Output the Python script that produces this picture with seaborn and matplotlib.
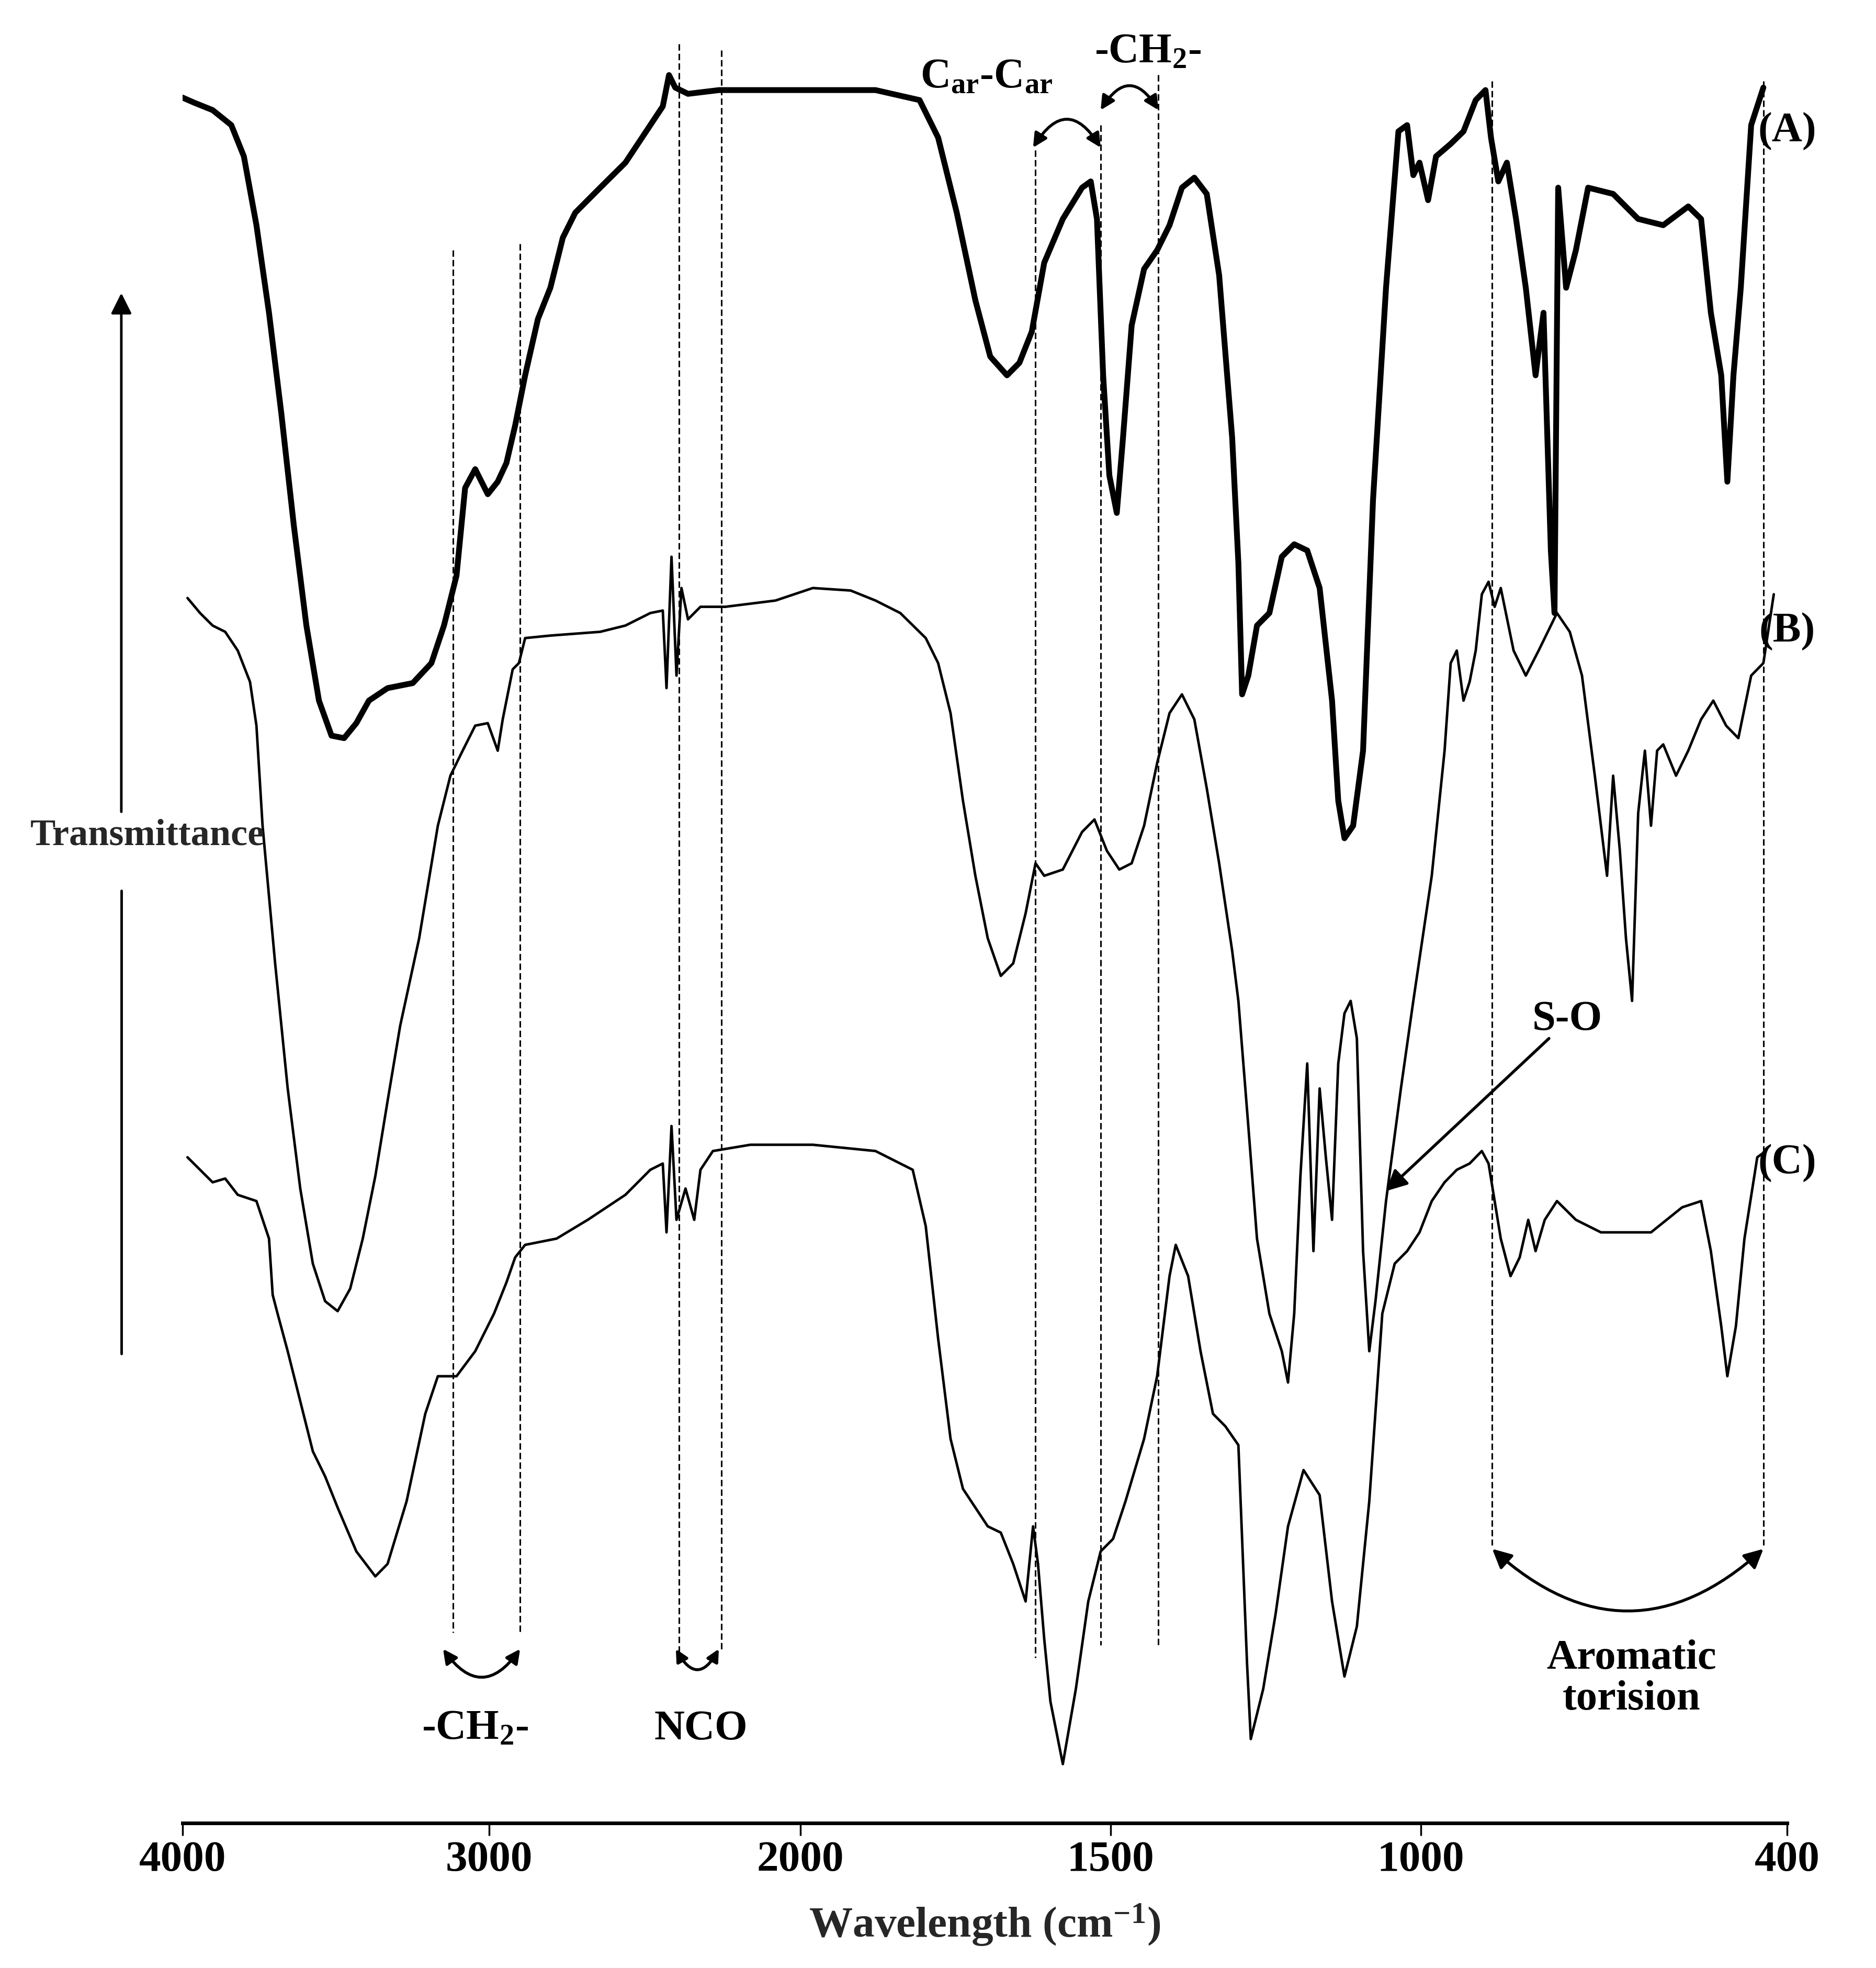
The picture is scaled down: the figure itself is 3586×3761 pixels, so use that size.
import numpy as np
import matplotlib
matplotlib.use("Agg")
import matplotlib.pyplot as plt
from matplotlib.patches import FancyArrowPatch
import seaborn as sns

sns.set_style("white")
plt.rcParams['font.family'] = ['Liberation Serif', 'DejaVu Serif']
plt.rcParams['font.weight'] = 'bold'
plt.rcParams['mathtext.fontset'] = 'custom'
plt.rcParams['mathtext.rm'] = 'Liberation Serif:bold'
plt.rcParams['mathtext.it'] = 'Liberation Serif:bold'
plt.rcParams['mathtext.bf'] = 'Liberation Serif:bold'

# ---- data (wavenumber cm-1, offset transmittance; larger value = lower on the plot) ----
wn_A = [4000,3963,3902,3841,3800,3759,3718,3678,3637,3596,3555,3514,3473,3433,3392,3331,3249,3188,3147,3106,3078,3045,3004,2972,2944,2916,2884,2843,2803,2763,2723,2643,2562,2482,2442,2422,2402,2361,2261,1879,1808,1778,1748,1718,1694,1667,1647,1627,1607,1577,1546,1532,1522,1512,1502,1490,1480,1466,1446,1425,1405,1385,1365,1345,1325,1304,1294,1288,1278,1264,1244,1224,1204,1183,1163,1143,1133,1123,1109,1093,1077,1056,1036,1022,1012,1002,988,975,951,930,910,894,885,873,859,844,828,812,799,787,781,775,762,746,726,685,644,603,562,541,525,508,498,488,476,459,439]
tr_A = [78,82,88,100,125,180,250,330,420,500,560,588,590,578,560,550,546,530,500,460,390,375,395,385,370,340,300,255,230,190,170,150,130,100,85,60,70,75,72,72,80,110,170,240,285,300,290,265,210,175,150,145,175,300,380,410,350,260,215,200,180,150,142,155,220,350,450,555,540,500,490,445,435,440,470,560,640,670,660,600,400,230,105,100,140,130,160,125,115,105,80,72,110,145,130,175,230,300,250,440,490,150,230,200,150,155,175,180,165,175,250,300,385,300,230,100,70]

wn_B = [3984,3943,3902,3861,3820,3780,3759,3739,3698,3657,3616,3575,3535,3494,3453,3412,3371,3331,3290,3228,3167,3126,3086,3045,3004,2972,2956,2924,2904,2884,2803,2643,2562,2482,2442,2430,2414,2398,2382,2361,2321,2241,2080,1980,1919,1879,1839,1798,1778,1758,1738,1718,1698,1677,1657,1637,1621,1607,1577,1546,1526,1506,1486,1466,1446,1425,1405,1385,1365,1345,1325,1304,1294,1278,1264,1244,1224,1214,1204,1194,1183,1173,1163,1153,1143,1133,1123,1113,1103,1093,1083,1073,1056,1032,1012,982,961,951,941,930,920,910,900,889,879,869,848,828,807,777,756,736,715,695,685,674,664,654,644,633,623,613,603,582,562,541,521,500,480,459,439,422]
tr_B = [478,490,500,505,520,545,580,660,770,870,950,1010,1040,1048,1030,990,940,880,820,750,660,620,600,580,578,600,575,535,530,510,508,505,500,490,488,550,445,540,470,495,485,485,480,470,472,480,490,510,530,570,640,700,750,780,770,730,690,700,695,665,655,680,695,690,660,610,570,555,575,630,690,760,800,900,990,1050,1080,1105,1050,940,850,1000,870,925,975,850,810,800,830,1000,1080,1040,960,870,800,700,600,530,520,560,545,520,475,465,485,470,520,540,520,490,505,540,620,700,620,680,750,800,650,600,660,600,595,620,600,575,560,580,590,540,530,475]

wn_C = [3984,3943,3902,3861,3820,3759,3718,3706,3690,3657,3616,3575,3535,3494,3433,3371,3331,3269,3208,3167,3106,3045,2984,2944,2916,2884,2783,2683,2562,2482,2442,2430,2414,2398,2369,2341,2321,2281,2161,1980,1879,1819,1798,1778,1758,1738,1698,1677,1657,1637,1625,1617,1607,1597,1577,1556,1536,1516,1496,1476,1446,1425,1405,1395,1375,1355,1335,1315,1294,1280,1274,1254,1234,1214,1189,1163,1143,1123,1103,1083,1062,1042,1022,1002,982,961,941,920,900,889,869,853,838,824,812,797,777,746,705,623,572,541,525,508,498,484,470,449,435]
tr_C = [925,935,945,942,955,960,990,1035,1050,1080,1120,1160,1180,1205,1240,1260,1250,1200,1130,1100,1100,1080,1050,1025,1005,995,990,975,955,935,930,985,900,975,950,975,935,920,915,915,920,935,980,1070,1150,1190,1220,1225,1250,1280,1220,1250,1310,1360,1410,1350,1280,1240,1230,1200,1150,1100,1020,995,1020,1080,1130,1140,1155,1330,1390,1350,1290,1220,1175,1195,1280,1340,1300,1200,1050,1010,1000,985,960,945,935,930,920,930,990,1020,1005,975,1000,975,960,975,985,985,965,960,1000,1060,1100,1060,990,925,920]

tick_wn = [4000, 3000, 2000, 1500, 1000, 400]
tick_labels = ["4000", "3000", "2000", "1500", "1000", "400"]

# non-uniform instrument axis (piecewise linear between ticks)
_wn = [400, 1000, 1500, 2000, 3000, 4000]
_pos = [0, 293, 541, 789, 1038, 1283]
def fwd(w):
    return np.interp(w, _wn, _pos)
def inv(p):
    return np.interp(p, _pos, _wn)

fig = plt.figure(figsize=(35.86, 37.61), dpi=100)
ax = fig.add_axes([146/1500, (1573-1457)/1573, (1429-146)/1500, (1457-30)/1573])
ax.set_xscale('function', functions=(fwd, inv))

sns.lineplot(x=wn_A, y=tr_A, ax=ax, color='black', linewidth=8, estimator=None)
sns.lineplot(x=wn_B, y=tr_B, ax=ax, color='black', linewidth=3.5, estimator=None)
sns.lineplot(x=wn_C, y=tr_C, ax=ax, color='black', linewidth=3.5, estimator=None)

ax.set_xlim(4000, 400)
ax.set_ylim(1457, 30)
ax.set_xticks(tick_wn)
ax.set_xticklabels(tick_labels, fontsize=60, fontweight='bold')
ax.minorticks_off()
ax.set_yticks([])
for s in ['top', 'right', 'left']:
    ax.spines[s].set_visible(False)
ax.spines['bottom'].set_linewidth(5)
ax.spines['bottom'].set_color('black')
ax.tick_params(axis='x', direction='out', length=17, width=2.5, pad=8, colors='black', bottom=True)
ax.set_xlabel("Wavelength (cm$^{-1}$)", fontsize=60, fontweight='bold', labelpad=30)

# dashed guide lines
guides = [(3118, 200, 1305), (2900, 195, 1305), (2390, 35, 1320), (2253, 40, 1320),
          (1621, 120, 1325), (1516, 100, 1315), (1423, 60, 1315), (883, 65, 1235), (439, 65, 1235)]
for w, y0, y1 in guides:
    ax.plot([w, w], [y0, y1], color='black', linestyle=(0, (4, 2)), linewidth=2.2)

tk = dict(fontsize=58, fontweight='bold', color='black', ha='center', va='center')
ax.text(1700, 62, "C$_{ar}$-C$_{ar}$", **tk)
ax.text(1440, 42, "-CH$_{2}$-", **tk)
ax.text(3045, 1382, "-CH$_{2}$-", **tk)
ax.text(2320, 1382, "NCO", **tk)
ax.text(655, 1342, "Aromatic\ntorision", linespacing=1.1, **tk)
ax.text(760, 815, "S-O", **tk)
ax.text(370, 105, "(A)", **tk)
ax.text(370, 505, "(B)", **tk)
ax.text(370, 930, "(C)", **tk)

def carrow(p0, p1, rad, ms=40, lw=4):
    a = FancyArrowPatch(p0, p1, connectionstyle=f"arc3,rad={rad}", arrowstyle='<|-|>',
                        mutation_scale=ms, linewidth=lw, color='black', shrinkA=0, shrinkB=0)
    ax.add_patch(a)

carrow((3150, 1318), (2900, 1318), 0.7)
carrow((2400, 1318), (2262, 1318), 0.9, ms=35)
carrow((883, 1238), (439, 1238), 0.45, ms=55)
carrow((1625, 118), (1516, 118), -0.8)
carrow((1516, 88), (1423, 88), -0.8)

ax.add_patch(FancyArrowPatch((790, 830), (1056, 952), arrowstyle='-|>', mutation_scale=60,
                             linewidth=4, color='black', shrinkA=0, shrinkB=0))

# Transmittance axis label and arrow (left of axes)
fig.text(118/1500, 1 - 668/1573, "Transmittance", fontsize=52, fontweight='bold', ha='center', va='center')
fig.add_artist(FancyArrowPatch((97/1500, 1 - 650/1573), (97/1500, 1 - 233/1573), transform=fig.transFigure,
                               arrowstyle='-|>', mutation_scale=60, linewidth=3.5, color='black'))
fig.add_artist(matplotlib.lines.Line2D([97/1500, 97/1500], [1 - 1082/1573, 1 - 712/1573],
                                       transform=fig.transFigure, color='black', linewidth=3.5))

fig.savefig("out.png", dpi=100, facecolor='white')
